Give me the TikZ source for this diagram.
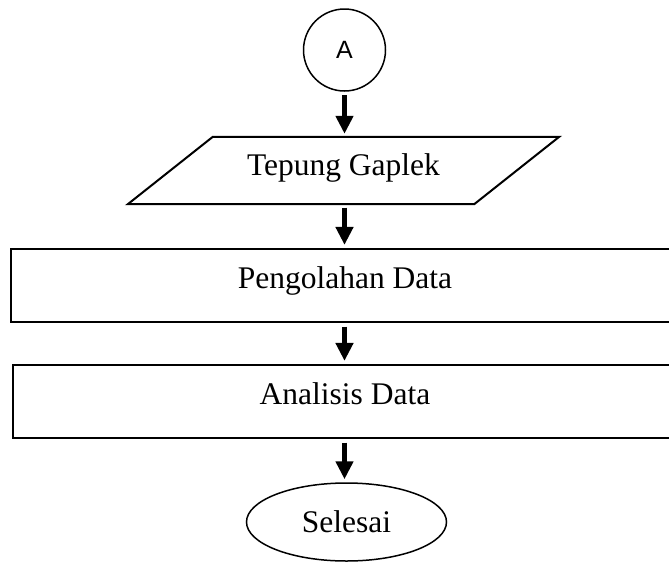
\documentclass[tikz,border=0pt]{standalone}
\usepackage{fontspec}
\setmainfont{Liberation Serif}
\newfontfamily\arialfont{Liberation Sans}
\usetikzlibrary{arrows.meta,shapes.geometric}
\begin{document}
\begin{tikzpicture}[x=1pt,y=-1pt,
  conn/.style={line width=5pt,-{Triangle[width=17pt,length=18pt]},shorten <=3.5pt,shorten >=3pt},
  bodytext/.style={font=\fontsize{31.5}{36}\selectfont},
  procbox/.style={draw,line width=2.2pt,minimum height=73pt,inner sep=0pt,bodytext,text height=21pt,text depth=16pt},
  iobox/.style={minimum width=431pt,minimum height=67pt,inner sep=0pt,bodytext,text height=21pt,text depth=12pt},
  connector/.style={draw,circle,line width=1.5pt,minimum size=82pt,inner sep=0pt,font=\arialfont\fontsize{25}{30}\selectfont},
  terminal/.style={draw,ellipse,line width=1.5pt,minimum width=200pt,minimum height=78pt,inner sep=0pt,bodytext}
]
\useasboundingbox (0,0) rectangle (669,563);
\clip (0,0) rectangle (669,563);
\fill[white] (0,0) rectangle (669,563);

\node[connector] (A) at (344.5,50) {A};
\node[iobox] (tg) at (343.5,170.5) {Tepung Gaplek};
\draw[line width=2pt,line join=miter]
  ([xshift=85pt]tg.north west) -- (tg.north east)
  -- ([xshift=-85pt]tg.south east) -- (tg.south west) -- cycle;
\node[procbox,minimum width=668pt] (p1) at (345,285.5) {Pengolahan Data};
\node[procbox,minimum width=664pt] (p2) at (345,401.5) {Analisis Data};
\node[terminal] (end) at (346.5,522) {Selesai};

\draw[conn] (A.south) -- (A.south |- tg.north);
\draw[conn] (A.south |- tg.south) -- (A.south |- p1.north);
\draw[conn] (A.south |- p1.south) -- (A.south |- p2.north);
\draw[conn] (A.south |- p2.south) -- (A.south |- end.north);
\end{tikzpicture}
\end{document}
